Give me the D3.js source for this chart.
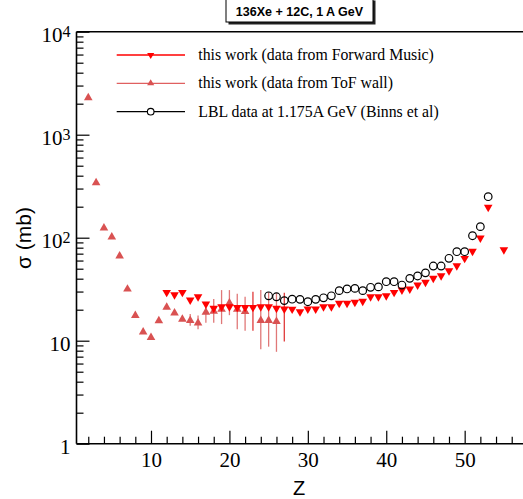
<!DOCTYPE html>
<html><head><meta charset="utf-8">
<script src="https://cdn.jsdelivr.net/npm/d3@7"></script>
<style>body{margin:0;background:#fff}</style>
</head><body><svg id="c" width="523" height="499"></svg>
<script>
// ---- Data ----
const fwdZ = [12,13,14,15,16,17,18,19,20,21,22,23,24,25,26,27,28,29,30,31,32,33,34,35,36,37,38,39,40,41,42,43,44,45,46,47,48,49,50,51,52,53,55];
const fwdSigma = [28.8,27.3,28.8,24.3,26.1,22.2,20.2,20.9,20.9,20.6,20.6,20.6,20.9,20.9,20.2,19.9,19.8,18.7,19.9,19.9,20.9,20.9,22.6,22.6,23.1,23.6,26.1,26.1,26.7,28.8,30.4,31.1,34.0,36.1,39.5,41.8,46.7,52.3,61.6,72.1,97.1,193,74.8];
const fwdErrZ = [23, 27];
const fwdErrLo = [12.5, 9.8];
const fwdErrHi = [29.9, 29.2];

const tofZ = [2,3,4,5,6,7,8,9,10,11,12,13,14,15,16,17,18,19,20,21,22,24,25,26];
const tofSigma = [2340,350,127,104,68,32.4,18,12.4,11.0,16.0,21.6,19.0,16.5,16.1,15.2,19.3,19.8,20.6,23.8,20.6,19.6,16.1,16.1,15.7];
const tofErrZ = [12,14,15,16,17,18,19,20,21,22,24,25,26];
const tofErrLo = [20.5,15.5,14.0,12.9,14.9,14.9,14.5,17.7,12.9,12.5,8.25,8.75,7.8];
const tofErrHi = [22.8,17.5,18.2,17.6,23.5,25.4,31.0,31.0,28.5,26.7,31.0,29.6,28.9];

const lblZ = [25,26,27,28,29,30,31,32,33,34,35,36,37,38,39,40,41,42,43,44,45,46,47,48,49,50,51,52,53];
const lblSigma = [27.3,26.7,24.5,25.3,25.2,23.9,25.2,26.1,27.3,30.6,31.8,32.2,30.6,33.0,33.3,37.4,37.4,34.7,40.3,42.5,45.6,53.1,53.1,63.1,73.1,73.1,104.5,128,250];

const xMajorTicks = [10,20,30,40,50];
const xMinorTicks = [2,4,6,8,12,14,16,18,22,24,26,28,32,34,36,38,42,44,46,48,52,54,56];
const yMajorTicks = [1,10,100,1000,10000];
const yTickBase = ["1","10","10","10","10"];
const yTickExp = ["","","2","3","4"];
const legendLabels = ["this work (data from Forward Music)","this work (data from ToF wall)","LBL data at 1.175A GeV (Binns et al)"];
const titleText = "136Xe + 12C, 1 A GeV";
const xLabel = "Z";
const yLabel = "\u03C3 (mb)";

const cFwd = "#ff0000", cTof = "#d95252", cTofErr = "#e07878", cLbl = "#000000";

// ---- Scales ----
const svg = d3.select("#c");
const x = d3.scaleLinear().domain([0.5, 58]).range([76.5, 527.4]);
const y = d3.scaleLog().domain([1, 10000]).range([443.7, 31.7]);
const serif = "'Liberation Serif','Times New Roman',serif";
const sans = "'Liberation Sans',Arial,Helvetica,sans-serif";

// ---- Axes ----
const gxMin = svg.append("g").attr("transform", `translate(0,${y(1)})`)
  .call(d3.axisBottom(x).tickValues(xMinorTicks).tickSize(-7).tickFormat(""));
const gx = svg.append("g").attr("transform", `translate(0,${y(1)})`)
  .call(d3.axisBottom(x).tickValues(xMajorTicks).tickSize(-13).tickPadding(8).tickFormat(d3.format("d")));
gx.selectAll("text").attr("font-family", serif).attr("font-size", 21).attr("fill", "#000");

const yMinor = [];
for (let e = 0; e < 4; e++) for (let m = 2; m <= 9; m++) yMinor.push(m * Math.pow(10, e));
const gyMin = svg.append("g").attr("transform", `translate(${x(0.5)},0)`)
  .call(d3.axisLeft(y).tickValues(yMinor).tickSize(-7).tickFormat(""));
const gy = svg.append("g").attr("transform", `translate(${x(0.5)},0)`)
  .call(d3.axisLeft(y).tickValues(yMajorTicks).tickSize(-13).tickFormat(""));
[gxMin, gx, gyMin, gy].forEach(g => {
  g.select(".domain").remove();
  g.selectAll("line").attr("stroke", "#000").attr("stroke-width", 1.2);
});

// y tick labels
yMajorTicks.forEach((v, i) => {
  const t = svg.append("text").attr("x", 70.5).attr("y", y(v) + 10.5)
    .attr("text-anchor", "end").attr("font-family", serif).attr("fill", "#000");
  t.append("tspan").attr("font-size", 21).text(yTickBase[i]);
  if (yTickExp[i]) t.append("tspan").attr("font-size", 16).attr("dy", -5).text(yTickExp[i]);
});

// frame lines
const fr = svg.append("g").attr("stroke", "#000").attr("stroke-width", 1.6).attr("fill", "none");
fr.append("line").attr("x1", x(0.5)).attr("x2", x(0.5)).attr("y1", y(10000)).attr("y2", y(1));
fr.append("line").attr("x1", x(0.5)).attr("x2", 523).attr("y1", y(1)).attr("y2", y(1));
fr.append("line").attr("x1", x(0.5)).attr("x2", 523).attr("y1", y(10000)).attr("y2", y(10000));

// axis titles
svg.append("text").attr("x", 299).attr("y", 495).attr("text-anchor", "middle")
  .attr("font-family", sans).attr("font-size", 20).text(xLabel);
svg.append("text").attr("transform", "translate(31,238) rotate(-90)").attr("text-anchor", "middle")
  .attr("font-family", sans).attr("font-size", 21).text(yLabel);

// ---- Marks ----
const triUp = d3.symbol().type(d3.symbolTriangle).size(32);
// error bars
svg.append("g").selectAll("line").data(tofErrZ).join("line")
  .attr("x1", d => x(d)).attr("x2", d => x(d))
  .attr("y1", (d, i) => y(tofErrHi[i])).attr("y2", (d, i) => y(tofErrLo[i]))
  .attr("stroke", cTofErr).attr("stroke-width", 1.3);
svg.append("g").selectAll("line").data(fwdErrZ).join("line")
  .attr("x1", d => x(d)).attr("x2", d => x(d))
  .attr("y1", (d, i) => y(fwdErrHi[i])).attr("y2", (d, i) => y(fwdErrLo[i]))
  .attr("stroke", "#e03a3a").attr("stroke-width", 1.3);

// ToF triangles
svg.append("g").selectAll("path").data(tofZ).join("path")
  .attr("d", triUp)
  .attr("transform", (d, i) => `translate(${x(d)},${y(tofSigma[i]) + 1})`)
  .attr("fill", cTof);
// Forward Music down triangles
svg.append("g").selectAll("path").data(fwdZ).join("path")
  .attr("d", triUp)
  .attr("transform", (d, i) => `translate(${x(d)},${y(fwdSigma[i]) - 1}) rotate(180)`)
  .attr("fill", cFwd);
// LBL circles
svg.append("g").selectAll("circle").data(lblZ).join("circle")
  .attr("cx", d => x(d)).attr("cy", (d, i) => y(lblSigma[i])).attr("r", 3.8)
  .attr("fill", "none").attr("stroke", cLbl).attr("stroke-width", 1.2);

// ---- Legend ----
const legY = [55, 83.3, 111.7];
const lg = svg.append("g");
legY.forEach((ly, i) => {
  lg.append("line").attr("x1", 116.7).attr("x2", 185).attr("y1", ly).attr("y2", ly)
    .attr("stroke", i === 2 ? "#000" : (i === 0 ? cFwd : "#e06060")).attr("stroke-width", 1.3);
  if (i === 0) lg.append("path").attr("d", d3.symbol().type(d3.symbolTriangle).size(22)).attr("fill", cFwd)
    .attr("transform", `translate(150.7,${ly}) rotate(180)`);
  else if (i === 1) lg.append("path").attr("d", d3.symbol().type(d3.symbolTriangle).size(22)).attr("fill", cTof)
    .attr("transform", `translate(150.7,${ly})`);
  else lg.append("circle").attr("cx", 150.7).attr("cy", ly).attr("r", 3.3).attr("fill", "#fff")
    .attr("stroke", "#000").attr("stroke-width", 1.1);
  lg.append("text").attr("x", 198.3).attr("y", ly + 4.8).attr("font-family", serif)
    .attr("font-size", 15.8).attr("fill", "#000").text(legendLabels[i]);
});

// ---- Title box ----
svg.append("rect").attr("x", 228.5).attr("y", 0.5).attr("width", 147).attr("height", 24).attr("fill", "#222");
svg.append("rect").attr("x", 226).attr("y", -2).attr("width", 147).attr("height", 24)
  .attr("fill", "#fff").attr("stroke", "#000").attr("stroke-width", 1);
svg.append("text").attr("x", 299.5).attr("y", 16).attr("text-anchor", "middle")
  .attr("font-family", sans).attr("font-weight", "bold").attr("font-size", 12.5).text(titleText);
</script></body></html>
